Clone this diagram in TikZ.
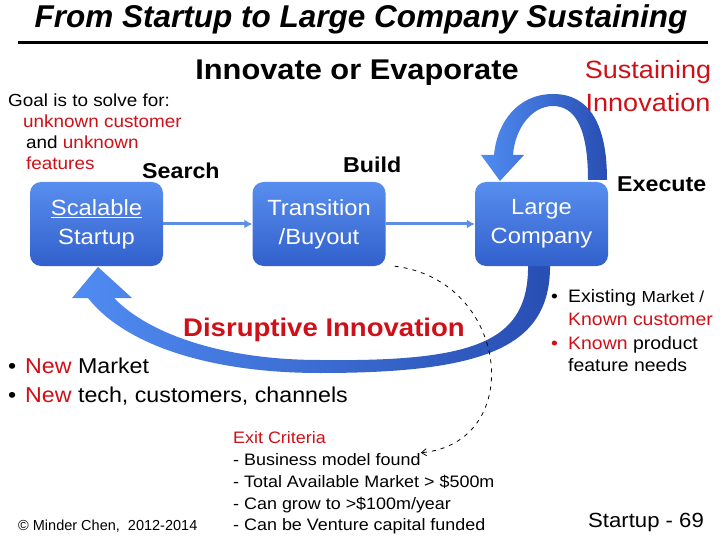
\documentclass[tikz,border=0pt]{standalone}
\usepackage{fontspec}
\setmainfont{Liberation Sans}
\newfontfamily\widefont[FakeStretch=1.08]{Liberation Sans}
\usetikzlibrary{arrows.meta}

\definecolor{redtxt}{RGB}{208,16,24}
\definecolor{boxtop}{RGB}{88,142,238}
\definecolor{boxbot}{RGB}{50,96,204}
\definecolor{flowblue}{RGB}{92,142,230}
\definecolor{arclight}{RGB}{80,140,242}
\definecolor{arcdark}{RGB}{40,78,178}
\newcommand{\fsz}[2]{\fontsize{#1}{#2}\selectfont}

\begin{document}
\begin{tikzpicture}[
  x=1pt, y=-1pt,
  sbox/.style={rounded corners=11pt, minimum width=133pt, minimum height=84pt,
    top color=boxtop, bottom color=boxbot, text=white, align=center,
    font=\widefont\fsz{22}{29}},
  flow/.style={draw=flowblue, line width=3pt, -{Latex[length=8pt,width=9pt]}},
  txt/.style={anchor=base west, inner sep=0pt},
  stage/.style={txt, font=\widefont\bfseries\fsz{21.5}{26}},
  exitline/.style={txt, font=\widefont\fsz{16.6}{20}},
  dashedarrow/.style={line width=0.8pt, dash pattern=on 4pt off 5pt,
    -{Straight Barb[length=5pt,width=7pt]}}
]
  \useasboundingbox[fill=white] (0,0) rectangle (720,540);

  % heading
  \node[font=\bfseries\itshape\fsz{31.5}{34}, anchor=base, inner sep=0pt] (title) at (361,28)
    {From Startup to Large Company Sustaining};
  \draw[line width=3.5pt] (18,42.5) -- (708,42.5);
  \node[font=\widefont\bfseries\fsz{28.5}{32}, anchor=base, inner sep=0pt] (motto) at (357,80)
    {Innovate or Evaporate};
  \node[font=\widefont\fsz{25}{33}, text=redtxt, align=center, inner sep=0pt] (sust) at (648,86)
    {Sustaining\\Innovation};

  % goal
  \node[txt, font=\widefont\fsz{17.5}{20}] (goal1) at (8,107) {Goal is to solve for:};
  \node[txt, font=\widefont\fsz{17.5}{20}, text=redtxt] (goal2) at (23,128) {unknown customer};
  \node[txt, font=\widefont\fsz{17.5}{20}] (goal3) at (26,149) {and \textcolor{redtxt}{unknown}};
  \node[txt, font=\widefont\fsz{17.5}{20}, text=redtxt] (goal4) at (26,170) {features};

  % big arrows
  \shade[left color=arclight, right color=arcdark]
    (588,180) -- (607,180) .. controls (607,125) and (590,94) .. (553,94)
    .. controls (518,94) and (497,122) .. (494,155) -- (481,155) -- (500,181)
    -- (524,155) -- (513,155) .. controls (515,128) and (532,106) .. (553,106)
    .. controls (576,106) and (588,130) .. (588,180) -- cycle;
  \shade[left color=arclight, right color=arcdark]
    (528,262) -- (550,262) .. controls (552,345) and (490,373) .. (320,373)
    .. controls (210,373) and (125,345) .. (88,298) -- (72,298) -- (98,267)
    -- (132,298) -- (114,298) .. controls (150,335) and (225,360) .. (320,360)
    .. controls (480,362) and (530,340) .. (528,262) -- cycle;

  % stages
  \node[sbox] (scal) at (96.5,224) {\underline{Scalable}\\Startup};
  \node[sbox] (trans) at (319,224) {Transition\\/Buyout};
  \node[sbox] (large) at (541.5,224) {Large\\Company};
  \draw[flow] (scal) -- (trans);
  \draw[flow] (trans) -- (large);

  \node[stage] (search) at (142,179) {Search};
  \node[stage] (build) at (343,173) {Build};
  \node[stage] (exec) at (617,192) {Execute};

  \node[txt, font=\widefont\bfseries\fsz{25.5}{30}, text=redtxt] (disr) at (183,336)
    {Disruptive Innovation};

  % new market
  \node[txt, font=\widefont\fsz{21.5}{26}] (new1) at (8,373)
    {\makebox[17pt][l]{\textbullet}\textcolor{redtxt}{New} Market};
  \node[txt, font=\widefont\fsz{21.5}{26}] (new2) at (8,402)
    {\makebox[17pt][l]{\textbullet}\textcolor{redtxt}{New} tech, customers, channels};

  % existing market
  \node[txt, font=\widefont\fsz{18}{22}] (old1) at (551,302)
    {\makebox[17pt][l]{\textbullet}Existing {\fsz{16}{20}Market /}};
  \node[txt, font=\widefont\fsz{18}{22}, text=redtxt] (old2) at (568,325) {Known customer};
  \node[txt, font=\widefont\fsz{18}{22}] (old3) at (551,349)
    {\makebox[17pt][l]{\textcolor{redtxt}{\textbullet}}\textcolor{redtxt}{Known} product};
  \node[txt, font=\widefont\fsz{18}{22}] (old4) at (568,371) {feature needs};

  % exit criteria
  \node[exitline, text=redtxt] (exit0) at (233,443) {Exit Criteria};
  \node[exitline] (exit1) at (233,465) {- Business model found};
  \node[exitline] (exit2) at (233,487) {- Total Available Market > \$500m};
  \node[exitline] (exit3) at (233,509) {- Can grow to >\$100m/year};
  \node[exitline] (exit4) at (233,530) {- Can be Venture capital funded};
  \draw[dashedarrow] ([xshift=9pt]trans.south east)
    .. controls +(115,14) and +(106,-10) .. (exit1.north east);

  % footer
  \node[txt, font=\fsz{14.5}{16}] (copy) at (18,530) {\textcopyright{} Minder Chen,\ \ 2012-2014};
  \node[txt, font=\widefont\fsz{20.5}{22}] (page) at (588,527) {Startup - 69};
\end{tikzpicture}
\end{document}
